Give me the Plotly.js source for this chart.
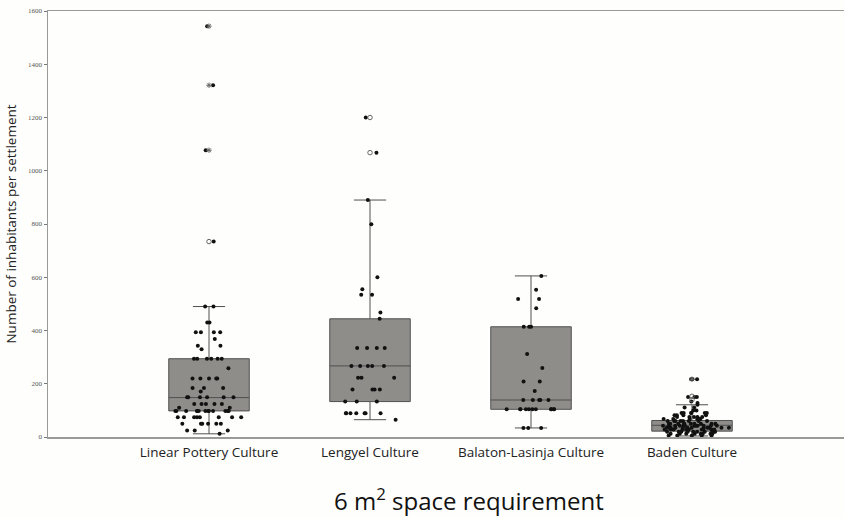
<!DOCTYPE html>
<html>
<head>
<meta charset="utf-8">
<script src="https://cdn.plot.ly/plotly-3.0.1.min.js"></script>
<style>html,body{margin:0;padding:0;background:#fefefc;}#chart{width:844px;height:518px;}</style>
</head>
<body>
<div id="chart"></div>
<script>
var categories = ['Linear Pottery Culture', 'Lengyel Culture', 'Balaton-Lasinja Culture', 'Baden Culture'];

var linearPottery = [1543, 1321, 1077, 734,
  490, 490, 430, 430, 393, 393, 393, 393, 368, 343, 343, 330,
  294, 294, 294, 294, 294, 294, 258, 220, 220, 220, 220, 220,
  184, 184, 184, 171, 149, 149, 149, 149, 149, 149,
  124, 124, 124, 124, 124, 110, 110,
  98, 98, 98, 98, 98, 98, 98, 98, 98, 98, 98, 98, 98,
  74, 74, 74, 74, 74, 74, 74, 74,
  50, 50, 50, 50, 50, 50, 24, 24, 24, 12];

var lengyel = [1200, 1068, 890, 799, 600, 555, 534, 534, 468, 444,
  334, 334, 334, 334, 267, 267, 267, 267, 267,
  223, 223, 223, 178, 178, 178, 178, 133, 133, 133,
  89, 89, 89, 89, 89, 89, 89, 65];

var balatonLasinja = [605, 553, 518, 518, 484, 414, 414, 414, 312, 259,
  208, 208, 173, 139, 139, 139, 139, 139,
  104, 104, 104, 104, 104, 104, 104, 104, 104, 104, 104,
  34, 34, 34];

var baden = [217, 217, 217, 150, 150, 150, 133, 128, 121, 111, 111, 100, 100,
  90, 90, 90, 90, 90, 90, 82, 82, 82, 82, 75, 75, 75, 75, 75,
  68, 68, 68, 68, 68, 68, 60, 60, 60, 60, 60, 60, 60, 60,
  50, 50, 50, 50, 50, 50, 50, 50, 50, 50,
  42, 42, 42, 42, 42, 42, 42, 42, 42, 42, 42, 42,
  35, 35, 35, 35, 35, 35, 35, 35, 35, 35, 35, 35,
  28, 28, 28, 28, 28, 28, 28, 28, 28, 28,
  20, 20, 20, 20, 20, 20, 20, 20, 20, 20,
  12, 12, 12, 12, 12, 12, 12, 12, 6, 6, 6, 6, 6];

var q1 = [98, 133, 104, 22];
var median = [148, 267, 139, 44];
var q3 = [294, 444, 414, 62];
var lowerWhisker = [12, 65, 34, 4];
var upperWhisker = [490, 890, 605, 121];

var outlierCats = ['Linear Pottery Culture', 'Linear Pottery Culture', 'Linear Pottery Culture', 'Linear Pottery Culture',
  'Lengyel Culture', 'Lengyel Culture', 'Baden Culture', 'Baden Culture', 'Baden Culture'];
var outlierVals = [1543, 1321, 1077, 734, 1200, 1068, 217, 153, 140];
var outlierKind = ['extreme', 'extreme', 'extreme', 'outlier', 'outlier', 'outlier', 'extreme', 'outlier', 'outlier'];

var xTitle = '6 m<sup>2</sup> space requirement';
var yTitle = 'Number of inhabitants per settlement';

var boxes = {
  type: 'box',
  x: categories,
  q1: q1, median: median, q3: q3,
  lowerfence: lowerWhisker, upperfence: upperWhisker,
  y: [linearPottery, lengyel, balatonLasinja, baden],
  boxpoints: 'all', jitter: 1, pointpos: 0,
  fillcolor: '#8f8d8a',
  line: {color: '#505050', width: 1},
  whiskerwidth: 0.4,
  marker: {color: '#111111', size: 4, line: {width: 0}},
  hoverinfo: 'y',
  showlegend: false
};

var outliers = {
  type: 'scatter', mode: 'markers',
  x: outlierCats, y: outlierVals,
  marker: {
    symbol: outlierKind.map(function (k) { return k === 'extreme' ? 'asterisk-open' : 'circle-open'; }),
    size: 4.5, color: '#666666', line: {color: '#666666', width: 1}
  },
  showlegend: false, hoverinfo: 'y'
};

var layout = {
  width: 844, height: 518,
  margin: {l: 48, r: 0, t: 11, b: 81},
  paper_bgcolor: '#fefefc', plot_bgcolor: '#fefefc',
  boxgap: 0.5, boxgroupgap: 0,
  showlegend: false,
  font: {family: '"Open Sans", "Noto Sans", sans-serif', color: '#222'},
  xaxis: {
    type: 'category', range: [-1, 3.944],
    showline: true, linecolor: '#9a9a98', linewidth: 1.5, mirror: true,
    showgrid: false, zeroline: false, ticks: 'outside', ticklen: 2, tickcolor: 'rgba(0,0,0,0)',
    tickfont: {size: 13.5, color: '#222'}
  },
  yaxis: {
    range: [0, 1600], tickvals: [0, 200, 400, 600, 800, 1000, 1200, 1400, 1600],
    showline: true, linecolor: '#9a9a98', linewidth: 1.5,
    showgrid: false, zeroline: false,
    ticks: 'outside', ticklen: 3, tickcolor: '#777', tickwidth: 1,
    tickfont: {size: 7, color: '#555', family: '"Liberation Serif", serif'},
    title: {text: yTitle, font: {size: 13.5, color: '#222'}, standoff: 8}
  },
  annotations: [{
    text: xTitle, xref: 'paper', yref: 'paper', x: 0.529, y: -0.147,
    xanchor: 'center', yanchor: 'middle', showarrow: false, borderpad: 0,
    font: {size: 24, color: '#111'}
  }]
};

Plotly.newPlot('chart', [boxes, outliers], layout, {displayModeBar: false, staticPlot: true});
</script>
</body>
</html>
